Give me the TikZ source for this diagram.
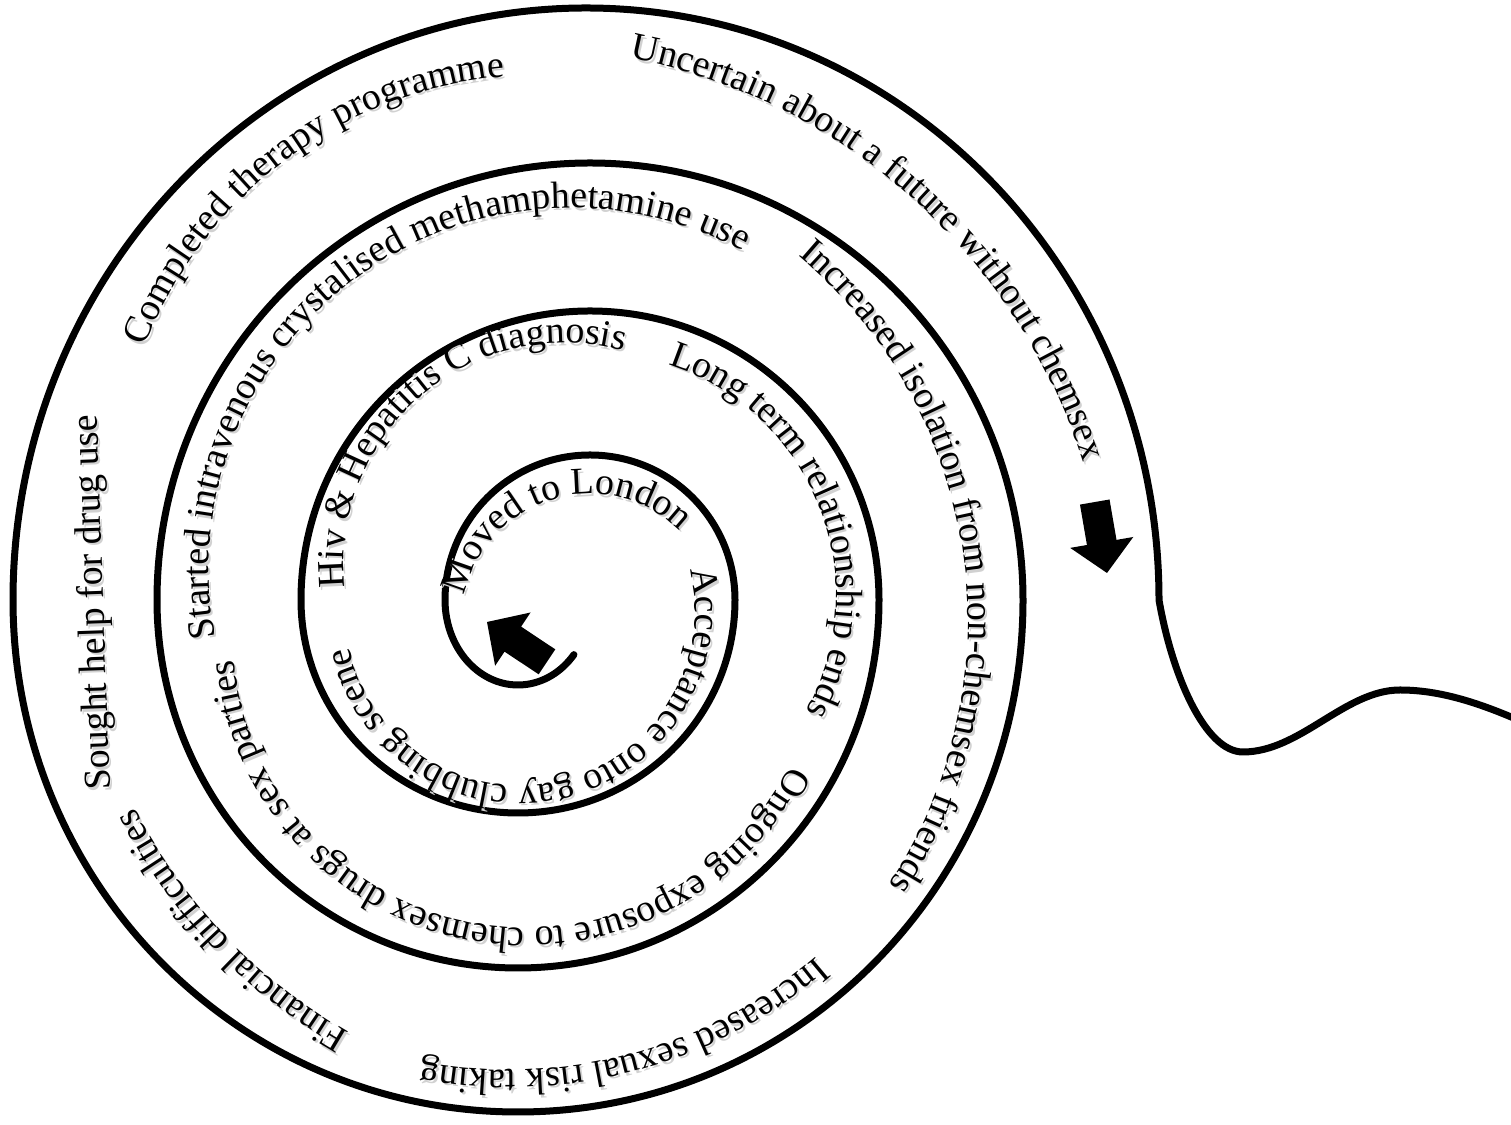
\documentclass[tikz,border=0pt]{standalone}
\usepackage{fontspec}
\setmainfont{Liberation Serif}
\usetikzlibrary{decorations.text}

\tikzset{
  spiral/.style={line width=0.7mm, line cap=round},
  arclabel/.style={decorate, decoration={text along path, text={#1}, text align=left}},
  arcshadow/.style={decorate, decoration={text along path, text={#1}, text align=left, text color=black!18}},
}

% label on a circular arc: centre x, centre y, radius, start angle, end angle, text
\newcommand\spirallabel[6]{%
  \path[arcshadow={#6}, shift={(2,-2.5)}] (#1,#2) ++(#4:#3) arc[start angle=#4, end angle=#5, radius=#3];
  \path[arclabel={#6}] (#1,#2) ++(#4:#3) arc[start angle=#4, end angle=#5, radius=#3];
}

% block arrow: tip x, tip y, direction
\newcommand\blockarrow[3]{%
  \fill[shift={(#1,#2)}, rotate=#3]
    (0,0) -- (-31,32) -- (-31,15) -- (-72,15) -- (-72,-15) -- (-31,-15) -- (-31,-32) -- cycle;
}

\begin{document}
\fontsize{10.8}{13}\selectfont
\begin{tikzpicture}[x=0.1mm, y=0.1mm]

\useasboundingbox (0,0) rectangle (1511,1125);

%---------------------------------------
% Spiral (half turns about two centres)
%---------------------------------------
\def\cy{525}

\draw[spiral] (518,\cy) ++(-40:73 and 85)
  arc[start angle=-40, end angle=-180, x radius=73, y radius=85]
  arc[start angle=180, end angle=0, radius=145]
  arc[start angle=0, end angle=-180, x radius=217, y radius=213]
  arc[start angle=180, end angle=0, radius=289]
  arc[start angle=0, end angle=-180, x radius=361, y radius=368]
  arc[start angle=180, end angle=0, x radius=433, y radius=437]
  arc[start angle=0, end angle=-180, x radius=505, y radius=512]
  arc[start angle=180, end angle=0, x radius=573, y radius=592]
  .. controls (1172,450) and (1205,373) .. (1243,373)
  .. controls (1300,373) and (1345,435) .. (1400,435)
  .. controls (1440,435) and (1480,422) .. (1525,402);

% ---- Arrows ----
\blockarrow{487}{503}{146.4}
\blockarrow{1107}{552}{-80.2}

%---------------------------------------
% Events, from the centre outwards
%---------------------------------------
\spirallabel{590}{503}{128}{168}{20}{Moved to London}
\spirallabel{520}{514}{175}{13.6}{-200}{Acceptance onto gay clubbing scene}
\spirallabel{565}{561}{221}{186.2}{40}{Hiv {\&} Hepatitis C diagnosis}
\spirallabel{594}{530}{242}{72.2}{-60}{Long term relationship ends}
\spirallabel{527}{491}{294}{-26.5}{-200}{Ongoing exposure to chemsex drugs at sex parties}
\spirallabel{571}{555}{362}{190.7}{40}{Started intravenous crystalised methamphetamine use}
\spirallabel{489}{504}{479}{49.8}{-60}{Increased isolation from non-chemsex friends}
\spirallabel{510}{525}{470}{-49.3}{-120}{Increased sexual risk taking}
\spirallabel{620}{565}{545}{-119.8}{-170}{Financial difficulties}
\spirallabel{541}{626}{424}{159}{80}{Completed therapy programme}
\spirallabel{516}{483}{595}{79}{0}{Uncertain about a future without chemsex}

% ---- nearly straight on the left ----
\path[arcshadow={Sought help for drug use}, shift={(2,-2.5)}] (110,335) -- (96,740);
\path[arclabel={Sought help for drug use}] (110,335) -- (96,740);

\end{tikzpicture}
\end{document}
